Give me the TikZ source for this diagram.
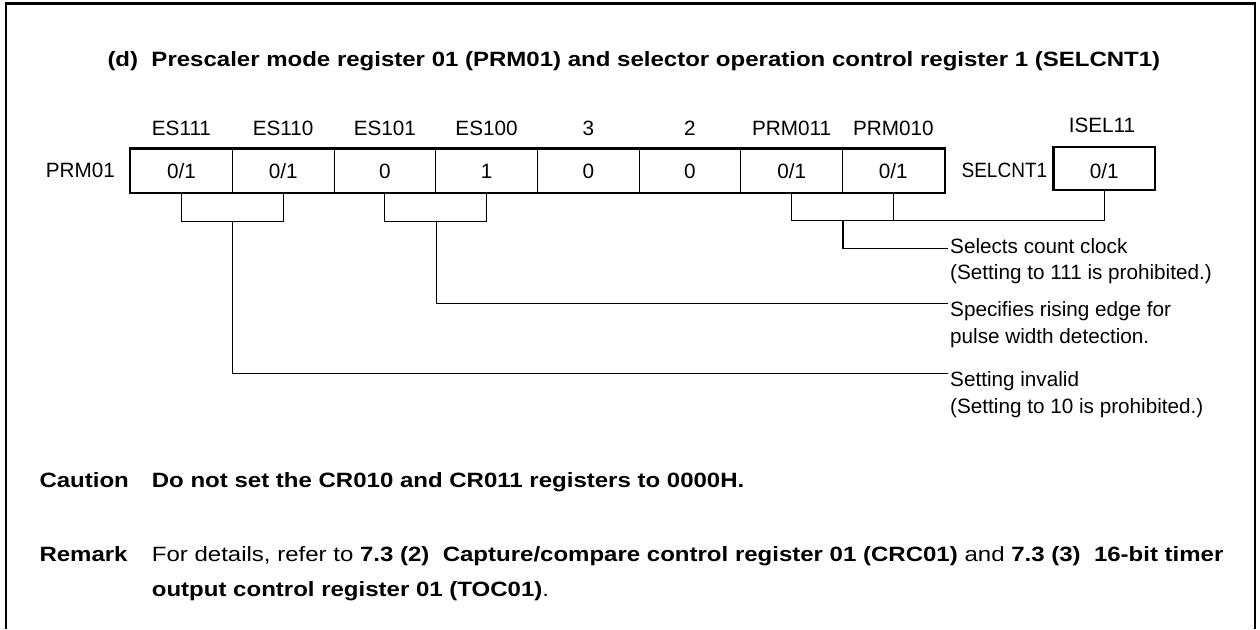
\documentclass[tikz,border=0pt]{standalone}
\usepackage{fontspec}
\setmainfont{Liberation Sans}
\newfontfamily\widefam[FakeStretch=1.16]{Liberation Sans}
\newfontfamily\narrowfam[FakeStretch=0.92]{Liberation Sans}
\newcommand{\fnt}{\fontsize{20.7}{26.7}\selectfont}
\tikzset{
  txt/.style={font=\fnt, inner sep=0pt},
  wtxt/.style={font=\widefam\fnt, inner sep=0pt},
  btxt/.style={font=\widefam\fnt\bfseries, inner sep=0pt},
  cell/.style={draw, line width=1pt, minimum width=101.7pt, minimum height=43.7pt,
    inner sep=0pt, font=\fnt, text height=14.3pt, text depth=0pt},
  regbox/.style={line width=2.4pt},
  conn/.style={line width=1.2pt},
  frameline/.style={line width=2.4pt},
  note/.style={font=\fnt, inner xsep=2pt, inner ysep=0pt, align=left, anchor=base west},
}
\begin{document}
\begin{tikzpicture}[x=1pt,y=-1pt]
\useasboundingbox (0,0) rectangle (1260,629);
\draw[frameline] (6,629) -- (6,3.5) -- (1255,3.5) -- (1255,629);

% title
\node[btxt, anchor=base west] (title) at (107.3,66.7)
  {(d)\ \ Prescaler mode register 01 (PRM01) and selector operation control register 1 (SELCNT1)};

% PRM01 register
\node[txt, anchor=base east] (prm) at (115,177.5) {PRM01};
\node[cell] (c1) at (181.45,170.85) {0/1};
\node[cell] (c2) at (283.15,170.85) {0/1};
\node[cell] (c3) at (384.85,170.85) {0};
\node[cell] (c4) at (486.55,170.85) {1};
\node[cell] (c5) at (588.25,170.85) {0};
\node[cell] (c6) at (689.95,170.85) {0};
\node[cell] (c7) at (791.65,170.85) {0/1};
\node[cell] (c8) at (893.35,170.85) {0/1};
\draw[regbox] (c1.north west) rectangle (c8.south east);

\node[txt, anchor=base] (l1) at (c1 |- 0,135) {ES111};
\node[txt, anchor=base] (l2) at (c2 |- 0,135) {ES110};
\node[txt, anchor=base] (l3) at (c3 |- 0,135) {ES101};
\node[txt, anchor=base] (l4) at (c4 |- 0,135) {ES100};
\node[txt, anchor=base] (l5) at (c5 |- 0,135) {3};
\node[txt, anchor=base] (l6) at (c6 |- 0,135) {2};
\node[txt, anchor=base] (l7) at (c7 |- 0,135) {PRM011};
\node[txt, anchor=base] (l8) at (c8 |- 0,135) {PRM010};

% SELCNT1 register
\node[txt, font=\narrowfam\fnt, anchor=base east] (sel) at (1047.5,177.5) {SELCNT1};
\node[cell, regbox, minimum height=43.3pt, text height=19.3pt] (s1) at (1104.15,168.35) {0/1};
\node[txt, anchor=base] (ls) at (1102,132.3) {ISEL11};

% notes (base anchor = baseline of the last line)
\node[note] (t1) at (948,279.8) {Selects count clock\\(Setting to 111 is prohibited.)};
\node[note] (t2) at (948,343.3) {Specifies rising edge for\\pulse width detection.};
\node[note] (t3) at (948,413.3) {Setting invalid\\(Setting to 10 is prohibited.)};

% brackets
\draw[conn] (c1.south) -- ++(0,28.3) coordinate (b1) -| (c2.south);
\draw[conn] (c3.south) -- ++(0,28.3) coordinate (b2) -| (c4.south);
\draw[conn] (c7.south) -- ++(0,27.3) coordinate (b3) -| (s1.south);
\draw[conn] (c8.south) -- (c8.south |- b3);

\draw[conn] (b3 -| c7.south east) |- ([yshift=31pt]t1.base west);
\draw[conn] (b2 -| c3.south east) |- ([yshift=40pt]t2.base west);
\draw[conn] (b1 -| c1.south east) |- ([yshift=40pt]t3.base west);

% caution and remark
\node[btxt, anchor=base west] (cap) at (39.3,487.3) {Caution};
\node[btxt, anchor=base west] (capt) at (151.7,487.3) {Do not set the CR010 and CR011 registers to 0000H.};
\node[btxt, anchor=base west] (rem) at (39.3,561.7) {Remark};
\node[wtxt, anchor=base west, align=left, font=\widefam\fontsize{20.7}{35}\selectfont] (remt) at (151.7,596.7)
  {For details, refer to \textbf{7.3 (2)\ \ Capture/compare control register 01 (CRC01)} and \textbf{7.3 (3)\ \ 16-bit timer}\\
   \textbf{output control register 01 (TOC01)}.};
\end{tikzpicture}
\end{document}
